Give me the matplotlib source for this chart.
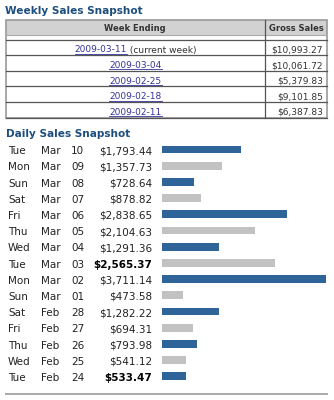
import matplotlib
matplotlib.use("Agg")
import matplotlib.pyplot as plt
from matplotlib.patches import Rectangle
from matplotlib.transforms import blended_transform_factory

# weekly table data
week_ending = ["2009-03-11", "2009-03-04", "2009-02-25", "2009-02-18", "2009-02-11"]
week_notes = [" (current week)", "", "", "", ""]
weekly_gross = [10993.27, 10061.72, 5379.83, 9101.85, 6387.83]

# daily data
day_names = ["Tue", "Mon", "Sun", "Sat", "Fri", "Thu", "Wed", "Tue",
             "Mon", "Sun", "Sat", "Fri", "Thu", "Wed", "Tue"]
months = ["Mar", "Mar", "Mar", "Mar", "Mar", "Mar", "Mar", "Mar",
          "Mar", "Mar", "Feb", "Feb", "Feb", "Feb", "Feb"]
day_nums = ["10", "09", "08", "07", "06", "05", "04", "03",
            "02", "01", "28", "27", "26", "25", "24"]
daily_sales = [1793.44, 1357.73, 728.64, 878.82, 2838.65, 2104.63, 1291.36, 2565.37,
               3711.14, 473.58, 1282.22, 694.31, 793.98, 541.12, 533.47]
bold_rows = [False, False, False, False, False, False, False, True,
             False, False, False, False, False, False, True]

TITLE = "#1d4e7e"
LINK = "#333399"
TXT = "#222222"
BLUE = "#2f6499"
GRAY = "#c2c2c2"

W, H = 334, 400
fig = plt.figure(figsize=(W / 100, H / 100), dpi=100)
fig.patch.set_facecolor("white")

# page axes in pixel units
bg = fig.add_axes([0, 0, 1, 1])
bg.set_xlim(0, W)
bg.set_ylim(H, 0)
bg.axis("off")

# ---- weekly table ----
bg.text(5, 14, "Weekly Sales Snapshot", fontsize=7.6, fontweight="bold",
        color=TITLE, va="baseline", ha="left")

tx0, tx1, tcol = 6, 327, 265
head_top, head_bot = 19.5, 35
row_top, row_h = 39.5, 15.6
n = len(week_ending)
tbot = row_top + n * row_h

bg.add_patch(Rectangle((tx0, head_top), tx1 - tx0, head_bot - head_top,
                       facecolor="#d2d2d2", edgecolor="none"))
for i in range(n + 1):
    y = row_top + i * row_h
    bg.plot([tx0, tx1], [y, y], color="#555555", lw=0.9)
bg.plot([tx0, tx1], [head_bot, head_bot], color="#aaaaaa", lw=0.8)
bg.add_patch(Rectangle((tx0, head_top), tx1 - tx0, tbot - head_top,
                       facecolor="none", edgecolor="#999999", lw=1.2))
bg.plot([tcol, tcol], [head_top, tbot], color="#555555", lw=0.9)

bg.text(135, 31, "Week Ending", fontsize=6.0, fontweight="bold", color="#333333",
        ha="center", va="baseline")
bg.text(296, 31, "Gross Sales", fontsize=6.0, fontweight="bold", color="#333333",
        ha="center", va="baseline")

link_texts = []
for i, (wk, note, val) in enumerate(zip(week_ending, week_notes, weekly_gross)):
    base = row_top + i * row_h + 13
    t = bg.text(0, base, wk, fontsize=6.5, color=LINK, ha="left", va="baseline")
    s = bg.text(0, base, note, fontsize=6.5, color="#333333", ha="left", va="baseline")
    link_texts.append((t, s, base))
    bg.text(323, base, f"${val:,.2f}", fontsize=6.5, color="#333333",
            ha="right", va="baseline")

# centre link + note on the column middle, then underline the link
fig.canvas.draw()
r = fig.canvas.get_renderer()
inv = bg.transData.inverted()
for t, s, base in link_texts:
    e1 = t.get_window_extent(r)
    e2 = s.get_window_extent(r) if s.get_text() else None
    w1 = inv.transform((e1.x1, 0))[0] - inv.transform((e1.x0, 0))[0]
    w2 = 0
    if e2 is not None:
        w2 = inv.transform((e2.x1, 0))[0] - inv.transform((e2.x0, 0))[0]
    x0 = 135.5 - (w1 + w2) / 2
    t.set_x(x0)
    s.set_x(x0 + w1)
    bg.plot([x0, x0 + w1], [base + 1.2, base + 1.2], color=LINK, lw=0.6)

# ---- daily snapshot ----
bg.text(6.5, 136.7, "Daily Sales Snapshot", fontsize=7.6, fontweight="bold",
        color=TITLE, va="baseline", ha="left")

nd = len(daily_sales)
rows_top, rows_bot = 141.4, 384.4
bar_left = 162
ax = fig.add_axes([bar_left / W, 1 - rows_bot / H, (W - bar_left) / W,
                   (rows_bot - rows_top) / H])
ax.set_ylim(nd - 0.5, -0.5)
ax.set_xlim(0, max(daily_sales) * (W - bar_left) / 164)
ax.axis("off")

colors = [BLUE if i % 2 == 0 else GRAY for i in range(nd)]
ax.barh(range(nd), daily_sales, height=0.47, color=colors, edgecolor="none")

tr = blended_transform_factory(bg.transData, ax.transData)
for i in range(nd):
    yb = i + 0.29
    ax.text(8, yb, day_names[i], transform=tr, fontsize=7.5, color=TXT,
            ha="left", va="baseline")
    ax.text(41.5, yb, months[i], transform=tr, fontsize=7.5, color=TXT,
            ha="left", va="baseline")
    ax.text(71, yb, day_nums[i], transform=tr, fontsize=7.5, color=TXT,
            ha="left", va="baseline")
    ax.text(152, yb, f"${daily_sales[i]:,.2f}", transform=tr, fontsize=7.5,
            color="#000000" if bold_rows[i] else TXT,
            fontweight="bold" if bold_rows[i] else "normal",
            ha="right", va="baseline")

bg.plot([6, 327], [394, 394], color="#aaaaaa", lw=1.4)

fig.savefig("out.png", dpi=100, facecolor="white")
